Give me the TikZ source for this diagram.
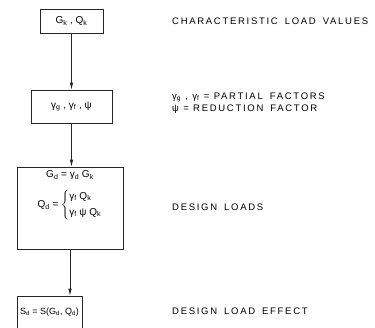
\documentclass[tikz,border=0pt]{standalone}
\usepackage{fontspec}
\setmainfont{Liberation Sans}
\newfontfamily\labelfont[LetterSpace=18]{Liberation Sans}
\usetikzlibrary{arrows.meta,positioning}
\newcommand{\sub}[1]{\textsubscript{#1}}
\newcommand{\wgap}{\hspace{7pt}}

\begin{document}
\begin{tikzpicture}[x=1pt,y=-1pt,>={Latex[length=7pt,width=3.4pt]},
  box/.style={draw=black!85,line width=0.6pt,inner sep=0pt,font=\fontsize{10}{12}\selectfont},
  lbl/.style={anchor=west,inner sep=0pt,align=left,font=\labelfont\fontsize{9.5}{12.5}\selectfont},
  link/.style={->,draw=black!85,line width=0.6pt}]
\useasboundingbox (0,0) rectangle (375,327);
% boxes
\node[box,minimum width=63pt,minimum height=24pt] (charac) at (71.5,21) {G\sub{k} , Q\sub{k}};
\node[box,minimum width=81pt,minimum height=33pt] (factors) at (71.5,106.5) {γ\sub{g} , γ\sub{f} , ψ};
\node[box,minimum width=106pt,minimum height=82pt] (design) at (70,208) {};
\node[font=\fontsize{10}{12}\selectfont,inner sep=0pt,align=center,below=4pt of design.north] (designeq)
  {G\sub{d} = γ\sub{d} G\sub{k}\\[9pt]
   Q\sub{d} = $\left\{\begin{tabular}{@{}l@{}}γ\sub{f} Q\sub{k}\\[4pt] γ\sub{f} ψ Q\sub{k}\end{tabular}\right.$};
\node[box,minimum width=65pt,minimum height=32pt,font=\fontsize{9}{11}\selectfont] (effect) at (49.5,312) {S\sub{d} = S(G\sub{d}, Q\sub{d})};
% connectors
\draw[link] (charac.south) -- (charac.south |- factors.north);
\draw[link] (factors.south) -- (factors.south |- design.north);
\draw[link] (design.south) -- (design.south |- effect.north);
% labels
\node[lbl] (characlbl) at (172,21) {CHARACTERISTIC\wgap LOAD\wgap VALUES};
\node[lbl] (factorslbl) at (172,103) {γ\sub{g} , γ\sub{f} = PARTIAL\wgap FACTORS\\ ψ = REDUCTION\wgap FACTOR};
\node[lbl] (designlbl) at (172,207) {DESIGN\wgap LOADS};
\node[lbl] (effectlbl) at (172,311) {DESIGN\wgap LOAD\wgap EFFECT};
\end{tikzpicture}
\end{document}
